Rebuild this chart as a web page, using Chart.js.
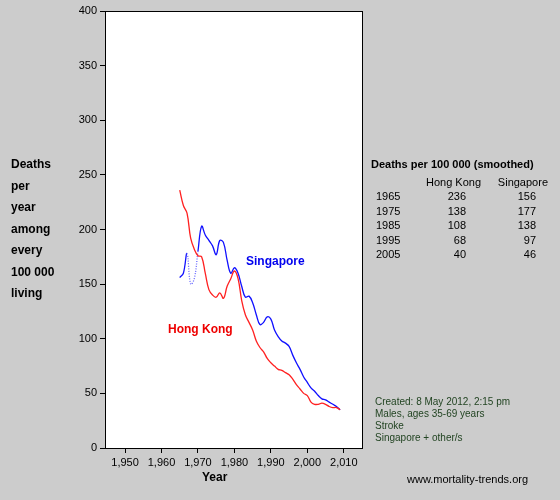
<!DOCTYPE html>
<html>
<head>
<style>
  body { margin: 0; background: #cccccc; }
  #wrap { width: 560px; height: 500px; }
</style>
<script src="https://cdn.jsdelivr.net/npm/chart.js@4/dist/chart.umd.min.js"></script>
</head>
<body>
<div id="wrap"><canvas id="c" width="560" height="500"></canvas></div>
<script>
// Data
const years = [];
for (let y = 1965; y <= 2009; y++) years.push(y);

const hongKong = [236, 222, 215, 192, 182, 176, 175, 160, 145, 140,
    138, 142, 137, 148, 155, 162, 155, 135, 122, 115,
    108, 98, 92, 88, 82, 78, 75, 72, 71, 69,
    67, 63, 58, 54, 50, 48, 42, 40, 40, 41,
    40, 38, 37, 37, 35];
const singapore = [156, 160, 178, 150, 155, 180, 203, 195, 190, 185,
    177, 190, 188, 172, 160, 165, 160, 148, 138, 139,
    133, 122, 113, 115, 120, 118, 108, 102, 98, 96,
    93, 85, 78, 72, 65, 60, 55, 52, 48, 45,
    44, 42, 40, 38, 35];
const dottedFrom = 1967, dottedTo = 1970;

const tableYears = ['1965', '1975', '1985', '1995', '2005'];
const tableHK = ['236', '138', '108', '68', '40'];
const tableSG = ['156', '177', '138', '97', '46'];
const yLabel = ['Deaths', 'per', 'year', 'among', 'every', '100 000', 'living'];
const notes = ['Created: 8 May 2012, 2:15 pm', 'Males, ages 35-69 years', 'Stroke', 'Singapore + other/s'];

const toPoints = arr => arr.map((v, i) => ({ x: years[i], y: v }));

const decor = {
    id: 'decor',
    beforeDraw(chart) {
        const ctx = chart.ctx, a = chart.chartArea;
        ctx.save();
        ctx.fillStyle = '#cccccc';
        ctx.fillRect(0, 0, chart.width, chart.height);
        ctx.fillStyle = '#ffffff';
        ctx.fillRect(a.left, a.top, a.right - a.left, a.bottom - a.top);
        ctx.restore();
    },
    afterDraw(chart) {
        const ctx = chart.ctx, a = chart.chartArea;
        ctx.save();
        ctx.strokeStyle = '#000';
        ctx.lineWidth = 1;
        ctx.strokeRect(a.left + 0.5, a.top + 0.5, a.right - a.left, a.bottom - a.top);
        ctx.textBaseline = 'middle';
        ctx.fillStyle = '#000';
        ctx.font = 'bold 12px Arial, "Liberation Sans", sans-serif';
        yLabel.forEach((t, i) => ctx.fillText(t, 11, 165 + i * 21.5));
        ctx.fillText('Year', 202, 478);
        ctx.fillStyle = '#0000ee';
        ctx.fillText('Singapore', 246, 262);
        ctx.fillStyle = '#ee0000';
        ctx.fillText('Hong Kong', 168, 330);
        // table
        ctx.fillStyle = '#000';
        ctx.font = 'bold 11px Arial, "Liberation Sans", sans-serif';
        ctx.fillText('Deaths per 100 000 (smoothed)', 371, 165);
        ctx.font = '11px Arial, "Liberation Sans", sans-serif';
        ctx.textAlign = 'right';
        ctx.fillText('Hong Kong', 481, 183);
        ctx.fillText('Singapore', 548, 183);
        tableYears.forEach((y, i) => {
            const yy = 197 + i * 14.5;
            ctx.textAlign = 'left';
            ctx.fillText(y, 376, yy);
            ctx.textAlign = 'right';
            ctx.fillText(tableHK[i], 466, yy);
            ctx.fillText(tableSG[i], 536, yy);
        });
        ctx.textAlign = 'left';
        ctx.fillStyle = '#224422';
        ctx.font = '10px Arial, "Liberation Sans", sans-serif';
        notes.forEach((t, i) => ctx.fillText(t, 375, 402 + i * 12));
        ctx.fillStyle = '#000';
        ctx.font = '11px Arial, "Liberation Sans", sans-serif';
        ctx.fillText('www.mortality-trends.org', 407, 480);
        ctx.restore();
    }
};

new Chart(document.getElementById('c'), {
    type: 'line',
    data: {
        datasets: [
            {
                label: 'Hong Kong',
                data: toPoints(hongKong),
                borderColor: '#ff2020',
                borderWidth: 1.3,
                pointRadius: 0,
                tension: 0.4
            },
            {
                label: 'Singapore',
                data: toPoints(singapore),
                borderColor: '#1010ff',
                borderWidth: 1.3,
                pointRadius: 0,
                tension: 0.4,
                segment: {
                    borderDash: s => (s.p0.parsed.x >= dottedFrom && s.p1.parsed.x <= dottedTo) ? [1, 1.5] : undefined,
                    borderColor: s => (s.p0.parsed.x >= dottedFrom && s.p1.parsed.x <= dottedTo) ? '#6a6aff' : undefined
                }
            }
        ]
    },
    options: {
        responsive: false,
        animation: false,
        layout: { padding: { top: 11, right: 198, left: 0, bottom: 0 } },
        plugins: { legend: { display: false }, tooltip: { enabled: false } },
        scales: {
            x: {
                type: 'linear',
                min: 1944.5,
                max: 2015,
                afterFit: s => { s.height = 52; },
                afterBuildTicks: s => { s.ticks = [1950, 1960, 1970, 1980, 1990, 2000, 2010].map(v => ({ value: v })); },
                grid: { drawOnChartArea: false, tickLength: 5, color: '#000' },
                border: { color: '#000' },
                ticks: { color: '#000', font: { size: 11, family: 'Arial, "Liberation Sans", sans-serif' }, maxRotation: 0 }
            },
            y: {
                min: 0,
                max: 400,
                afterFit: s => { s.width = 105; },
                grid: { drawOnChartArea: false, tickLength: 5, color: '#000' },
                border: { color: '#000' },
                ticks: { stepSize: 50, color: '#000', font: { size: 11, family: 'Arial, "Liberation Sans", sans-serif' } }
            }
        }
    },
    plugins: [decor]
});
</script>
</body>
</html>
